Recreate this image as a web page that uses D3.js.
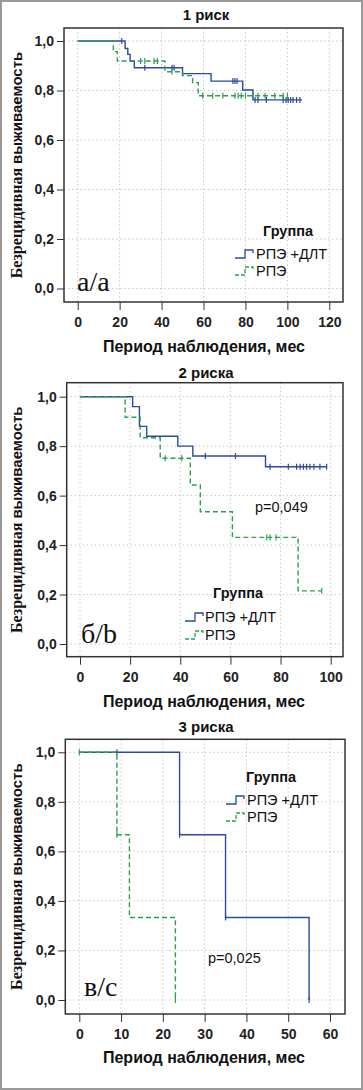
<!DOCTYPE html>
<html>
<head>
<meta charset="utf-8">
<script src="https://cdn.jsdelivr.net/npm/d3@7"></script>
<style>
  body { margin: 0; background: #fff; }
  svg { display: block; }
  .grid line { stroke: #c8c8c8; stroke-dasharray: 1.5 2.5; }
  .tick-label { font-family: "Liberation Sans", Arial, sans-serif; font-weight: bold; font-size: 14px; fill: #222; }
  .ttl { font-family: "Liberation Sans", Arial, sans-serif; font-weight: bold; font-size: 15px; fill: #111; }
  .xlab { font-family: "Liberation Sans", Arial, sans-serif; font-weight: bold; font-size: 16px; fill: #111; }
  .leg { font-family: "Liberation Sans", Arial, sans-serif; font-size: 14.5px; fill: #111; }
</style>
</head>
<body>
<div id="chart"></div>
<script>
// Panel titles and shared labels
const titles = ['1 риск', '2 риска', '3 риска'];
const panelTags = ['а/a', 'б/b', 'в/с'];
const pValues = [null, 'p=0,049', 'p=0,025'];
const seriesNames = ['РПЭ +ДЛТ', 'РПЭ'];
const xTicks1 = [0, 20, 40, 60, 80, 100, 120];
const xTicks2 = [0, 20, 40, 60, 80, 100];
const xTicks3 = [0, 10, 20, 30, 40, 50, 60];
const yTicks = [0, 0.2, 0.4, 0.6, 0.8, 1.0];

// 1 риск — РПЭ +ДЛТ: step times / survival after step, censored times
const r1DltTime = [0, 22.6, 23.9, 25, 27, 50, 63.6, 78.7, 83.6, 107];
const r1DltSurv = [1, 0.97, 0.946, 0.919, 0.892, 0.868, 0.838, 0.802, 0.762, 0.762];
const r1DltCens = [21, 32, 45, 46, 74, 75, 76, 84.6, 86, 90, 98, 99.4, 100.4, 101.6, 102.7, 104.4, 106];
// 1 риск — РПЭ
const r1Time = [0, 17, 18.9, 41.6, 50, 54.8, 57.5, 100];
const r1Surv = [1, 0.957, 0.919, 0.876, 0.86, 0.832, 0.779, 0.779];
const r1Cens = [30, 32, 36.4, 38, 45, 59.6, 64.4, 69.2, 75, 76.5, 78, 80, 83.6, 86, 89.4, 94, 98, 100];

// 2 риска — РПЭ +ДЛТ
const r2DltTime = [0, 21, 23.7, 26.6, 39, 45, 74, 98.4];
const r2DltSurv = [1, 0.96, 0.88, 0.84, 0.80, 0.76, 0.717, 0.717];
const r2DltCens = [50, 62, 75.8, 83.1, 86.4, 87.8, 89.1, 90.4, 91.7, 93.3, 95.7, 98.4];
// 2 риска — РПЭ
const r2Time = [0, 18, 24, 32, 44, 48, 60.8, 87, 96.4];
const r2Surv = [1, 0.917, 0.834, 0.751, 0.643, 0.535, 0.431, 0.215, 0.215];
const r2Cens = [34, 40.6, 74.5, 75.8, 78.2, 96.4];

// 3 риска — РПЭ +ДЛТ
const r3DltTime = [0, 24, 35, 55];
const r3DltSurv = [1, 0.667, 0.333, 0];
const r3DltCens = [9, 24, 35, 55];
// 3 риска — РПЭ
const r3Time = [0, 9, 12, 23];
const r3Surv = [1, 0.667, 0.333, 0];
const r3Cens = [0, 9, 23];

const colors = ['#2b4aa0', '#2f9e4f'];

const panels = [
  {
    frame: { l: 64, r: 343, t: 28, b: 302 },
    xTicks: xTicks1, xRange: [77.7, 329.3], yRange: [288.5, 41],
    series: [
      { time: r1DltTime, surv: r1DltSurv, cens: r1DltCens },
      { time: r1Time, surv: r1Surv, cens: r1Cens },
    ],
    titleY: 20, xlabY: 352,
    legend: { gx: 288, gy: 236, sx: 235, tx: 256, y1: 254, y2: 271 },
    tag: { x: 77, y: 291 },
  },
  {
    frame: { l: 66.7, r: 343, t: 382.7, b: 656.7 },
    xTicks: xTicks2, xRange: [80, 330.7], yRange: [644, 396.7],
    series: [
      { time: r2DltTime, surv: r2DltSurv, cens: r2DltCens },
      { time: r2Time, surv: r2Surv, cens: r2Cens },
    ],
    titleY: 378, xlabY: 707,
    legend: { gx: 238, gy: 598, sx: 185, tx: 205, y1: 617, y2: 635 },
    tag: { x: 81, y: 643 }, p: { x: 255, y: 512 },
  },
  {
    frame: { l: 65.3, r: 345, t: 739.3, b: 1014 },
    xTicks: xTicks3, xRange: [79.3, 330], yRange: [1000, 752.3],
    series: [
      { time: r3DltTime, surv: r3DltSurv, cens: r3DltCens },
      { time: r3Time, surv: r3Surv, cens: r3Cens },
    ],
    titleY: 732, xlabY: 1063,
    legend: { gx: 271, gy: 782, sx: 226, tx: 247, y1: 800, y2: 817 },
    tag: { x: 84, y: 996 }, p: { x: 208, y: 963 },
  },
];

const svg = d3.select('#chart')
  .append('svg')
  .attr('width', 363)
  .attr('height', 1090);

svg.append('rect')
  .attr('x', 1).attr('y', 1)
  .attr('width', 361).attr('height', 1088)
  .attr('fill', 'none')
  .attr('stroke', '#9a9a9a')
  .attr('stroke-width', 2);

panels.forEach((p, i) => {
  const g = svg.append('g');
  const x = d3.scaleLinear().domain([0, d3.max(p.xTicks)]).range(p.xRange);
  const y = d3.scaleLinear().domain([0, 1]).range(p.yRange);
  const f = p.frame;

  // gridlines
  const grid = g.append('g').attr('class', 'grid');
  grid.selectAll('.gx').data(p.xTicks).enter().append('line')
    .attr('x1', d => x(d)).attr('x2', d => x(d))
    .attr('y1', f.t).attr('y2', f.b);
  grid.selectAll('.gy').data(yTicks).enter().append('line')
    .attr('x1', f.l).attr('x2', f.r)
    .attr('y1', d => y(d)).attr('y2', d => y(d));

  // axes (ticks outside frame)
  const axB = g.append('g').attr('transform', `translate(0, ${f.b})`)
    .call(d3.axisBottom(x).tickValues(p.xTicks).tickSize(8).tickPadding(7).tickFormat(d3.format('d')));
  axB.select('.domain').remove();
  axB.selectAll('line').attr('stroke', '#333');
  axB.selectAll('text').attr('class', 'tick-label');

  const axL = g.append('g').attr('transform', `translate(${f.l}, 0)`)
    .call(d3.axisLeft(y).tickValues(yTicks).tickSize(7).tickPadding(3)
      .tickFormat(d => d3.format('.1f')(d).replace('.', ',')));
  axL.select('.domain').remove();
  axL.selectAll('line').attr('stroke', '#333');
  axL.selectAll('text').attr('class', 'tick-label');

  // frame
  g.append('rect')
    .attr('x', f.l).attr('y', f.t)
    .attr('width', f.r - f.l).attr('height', f.b - f.t)
    .attr('fill', 'none').attr('stroke', '#333').attr('stroke-width', 1.5);

  // curves
  const line = d3.line().curve(d3.curveStepAfter).x(d => x(d[0])).y(d => y(d[1]));
  p.series.forEach((s, k) => {
    const pts = s.time.map((t, j) => [t, s.surv[j]]);
    g.append('path')
      .datum(pts)
      .attr('d', line)
      .attr('fill', 'none')
      .attr('stroke', colors[k])
      .attr('stroke-width', 1.4)
      .attr('stroke-dasharray', k === 1 ? '5 3' : null);

    const survAt = t => {
      let v = s.surv[0];
      s.time.forEach((tt, j) => { if (tt <= t) v = s.surv[j]; });
      return v;
    };
    g.selectAll(null).data(s.cens).enter().append('line')
      .attr('x1', d => x(d)).attr('x2', d => x(d))
      .attr('y1', d => y(survAt(d)) - 3).attr('y2', d => y(survAt(d)) + 3)
      .attr('stroke', colors[k]).attr('stroke-width', 1.2);
  });

  // title and x label
  svg.append('text').attr('class', 'ttl')
    .attr('x', 206).attr('y', p.titleY).attr('text-anchor', 'middle').text(titles[i]);
  svg.append('text').attr('class', 'xlab')
    .attr('x', 204).attr('y', p.xlabY).attr('text-anchor', 'middle').text('Период наблюдения, мес');

  // y label (mixed serif / sans)
  const yl = svg.append('text')
    .attr('transform', `translate(22, ${(f.t + f.b) / 2}) rotate(-90)`)
    .attr('text-anchor', 'middle')
    .attr('font-weight', 'bold')
    .attr('font-size', 16)
    .attr('fill', '#111');
  yl.append('tspan').attr('font-family', '"Liberation Serif", "Times New Roman", serif').text('Безрецидивная ');
  yl.append('tspan').attr('font-family', '"Liberation Sans", Arial, sans-serif').attr('font-size', 15).text('выживаемость');

  // legend
  const L = p.legend;
  svg.append('text').attr('class', 'leg').attr('font-weight', 'bold')
    .attr('x', L.gx).attr('y', L.gy).attr('text-anchor', 'middle').text('Группа');
  [L.y1, L.y2].forEach((ly, k) => {
    const sx = L.sx;
    svg.append('path')
      .attr('d', `M${sx},${ly + 4} H${sx + 10} V${ly - 4} H${sx + 18} V${ly - 1}`)
      .attr('fill', 'none')
      .attr('stroke', colors[k])
      .attr('stroke-width', 1.3)
      .attr('stroke-dasharray', k === 1 ? '4 2' : null);
    svg.append('text').attr('class', 'leg')
      .attr('x', L.tx).attr('y', ly + 5).text(seriesNames[k]);
  });

  // panel tag
  svg.append('text')
    .attr('x', p.tag.x).attr('y', p.tag.y)
    .attr('font-family', '"Liberation Serif", "Times New Roman", serif')
    .attr('font-size', 28)
    .attr('fill', '#111')
    .text(panelTags[i]);

  if (p.p) {
    svg.append('text').attr('class', 'leg').attr('font-size', 13.5)
      .attr('x', p.p.x).attr('y', p.p.y).text(pValues[i]);
  }
});
</script>
</body>
</html>
